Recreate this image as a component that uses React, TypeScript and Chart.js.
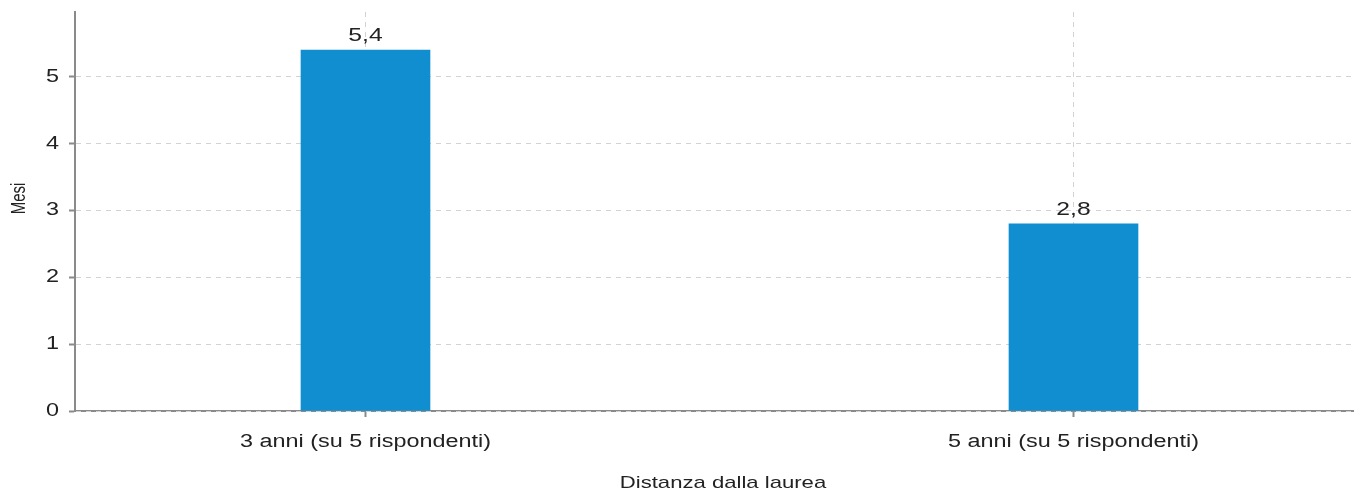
import React, { useEffect, useRef } from 'react';
import { Chart, registerables } from 'chart.js';

Chart.register(...registerables);

// ---- data ----
const categories = ['3 anni (su 5 rispondenti)', '5 anni (su 5 rispondenti)'];
const categoryPositions = [0, 1];
const mesiValues = [5.4, 2.8];
const yTickValues = [0, 1, 2, 3, 4, 5];
const yMax = 5.97;
const xTitle = 'Distanza dalla laurea';
const yTitle = 'Mesi';

// ---- style ----
const FONT = '"Liberation Sans", Arial, Helvetica, sans-serif';
const SX = 1.3; // horizontal stretch of glyphs, as in the reference
const BAR_COLOR = '#108ed0';
const AXIS_COLOR = '#8a8a8a';
const GRID_COLOR = '#d2d2d2';
const TEXT_COLOR = '#222222';
const CANVAS_W = 1371;
const CANVAS_H = 492;

function stretchText(ctx: CanvasRenderingContext2D) {
  const fill = ctx.fillText.bind(ctx);
  const measure = ctx.measureText.bind(ctx);
  (ctx as any).fillText = (text: string, x: number, y: number) => {
    const t = ctx.getTransform();
    const p = t.transformPoint(new DOMPoint(x, y));
    ctx.save();
    ctx.setTransform(
      new DOMMatrix().translate(p.x, p.y).scale(SX, 1).translate(-p.x, -p.y).multiply(t)
    );
    fill(text, x, y);
    ctx.restore();
  };
  (ctx as any).measureText = (text: string) => {
    const m = measure(text);
    return {
      width: m.width * SX,
      actualBoundingBoxAscent: m.actualBoundingBoxAscent,
      actualBoundingBoxDescent: m.actualBoundingBoxDescent,
      actualBoundingBoxLeft: m.actualBoundingBoxLeft * SX,
      actualBoundingBoxRight: m.actualBoundingBoxRight * SX,
      fontBoundingBoxAscent: m.fontBoundingBoxAscent,
      fontBoundingBoxDescent: m.fontBoundingBoxDescent,
    } as TextMetrics;
  };
}

const valueLabels = {
  id: 'valueLabels',
  afterDatasetsDraw(chart: any) {
    const { ctx } = chart;
    const meta = chart.getDatasetMeta(0);
    const data = chart.data.datasets[0].data as { x: number; y: number }[];
    ctx.save();
    ctx.font = `19px ${FONT}`;
    ctx.fillStyle = TEXT_COLOR;
    ctx.textAlign = 'center';
    ctx.textBaseline = 'alphabetic';
    meta.data.forEach((bar: any, i: number) => {
      const label = String(data[i].y).replace('.', ',');
      ctx.fillText(label, bar.x, bar.y - 9);
    });
    ctx.restore();
  },
};

const yAxisTitle = {
  id: 'yAxisTitle',
  afterDraw(chart: any) {
    const { ctx, chartArea } = chart;
    ctx.save();
    ctx.font = `15px ${FONT}`;
    ctx.fillStyle = TEXT_COLOR;
    ctx.textAlign = 'center';
    ctx.textBaseline = 'middle';
    ctx.translate(19.5, (chartArea.top + chartArea.bottom) / 2 - 13);
    ctx.rotate(-Math.PI / 2);
    ctx.fillText(yTitle, 0, 0);
    ctx.restore();
  },
};

export default function App() {
  const canvasRef = useRef<HTMLCanvasElement | null>(null);

  useEffect(() => {
    const canvas = canvasRef.current;
    if (!canvas) return;
    const ctx = canvas.getContext('2d')!;
    stretchText(ctx);

    const chart = new Chart(ctx, {
      type: 'bar',
      data: {
        datasets: [
          {
            label: yTitle,
            data: categoryPositions.map((x, i) => ({ x, y: mesiValues[i] })),
            backgroundColor: BAR_COLOR,
            borderWidth: 0,
            barThickness: 129,
          },
        ],
      },
      options: {
        animation: false,
        responsive: false,
        devicePixelRatio: 1,
        layout: { padding: { top: 12, left: 0, right: 0, bottom: 0 } },
        plugins: {
          legend: { display: false },
          tooltip: { enabled: false },
        },
        scales: {
          x: {
            type: 'linear',
            position: 'bottom',
            offset: false,
            min: -0.4103,
            max: 1.4202,
            afterBuildTicks: (s: any) => {
              s.ticks = categoryPositions.map((v) => ({ value: v }));
            },
            afterFit: (s: any) => {
              s.height = 81;
              s.paddingLeft = 0;
              s.paddingRight = 0;
            },
            ticks: {
              autoSkip: false,
              maxRotation: 0,
              padding: 14,
              color: TEXT_COLOR,
              font: { family: FONT, size: 18 },
              callback: (v: any) => categories[categoryPositions.indexOf(Number(v))] ?? '',
            },
            grid: {
              offset: false,
              z: -3,
              color: GRID_COLOR,
              lineWidth: 1,
              tickLength: 6,
              tickColor: AXIS_COLOR,
              tickWidth: 2,
              tickBorderDash: [],
            },
            border: { display: true, color: AXIS_COLOR, width: 2, dash: [5, 5], z: -2 },
            title: {
              display: true,
              text: xTitle,
              color: TEXT_COLOR,
              font: { family: FONT, size: 17, lineHeight: 1 },
              padding: { top: 0, bottom: 0 },
            },
          },
          y: {
            type: 'linear',
            position: 'left',
            min: 0,
            max: yMax,
            afterBuildTicks: (s: any) => {
              s.ticks = yTickValues.map((v) => ({ value: v }));
            },
            afterFit: (s: any) => {
              s.width = 75;
              s.paddingTop = 0;
              s.paddingBottom = 0;
            },
            ticks: {
              padding: 10,
              color: TEXT_COLOR,
              font: { family: FONT, size: 18 },
              callback: (v: any) => String(v),
            },
            grid: {
              color: GRID_COLOR,
              lineWidth: 1,
              tickLength: 6,
              tickColor: AXIS_COLOR,
              tickWidth: 2,
              tickBorderDash: [],
            },
            border: { display: true, color: AXIS_COLOR, width: 2, dash: [5, 5] },
            title: { display: false },
          },
        },
      },
      plugins: [valueLabels, yAxisTitle],
    } as any);

    return () => chart.destroy();
  }, []);

  return (
    <div
      style={{
        position: 'absolute',
        left: 0,
        top: 0,
        width: 1354,
        height: CANVAS_H,
        overflow: 'hidden',
        background: '#ffffff',
      }}
    >
      <canvas
        ref={canvasRef}
        width={CANVAS_W}
        height={CANVAS_H}
        style={{ display: 'block', width: CANVAS_W, height: CANVAS_H }}
      />
    </div>
  );
}
